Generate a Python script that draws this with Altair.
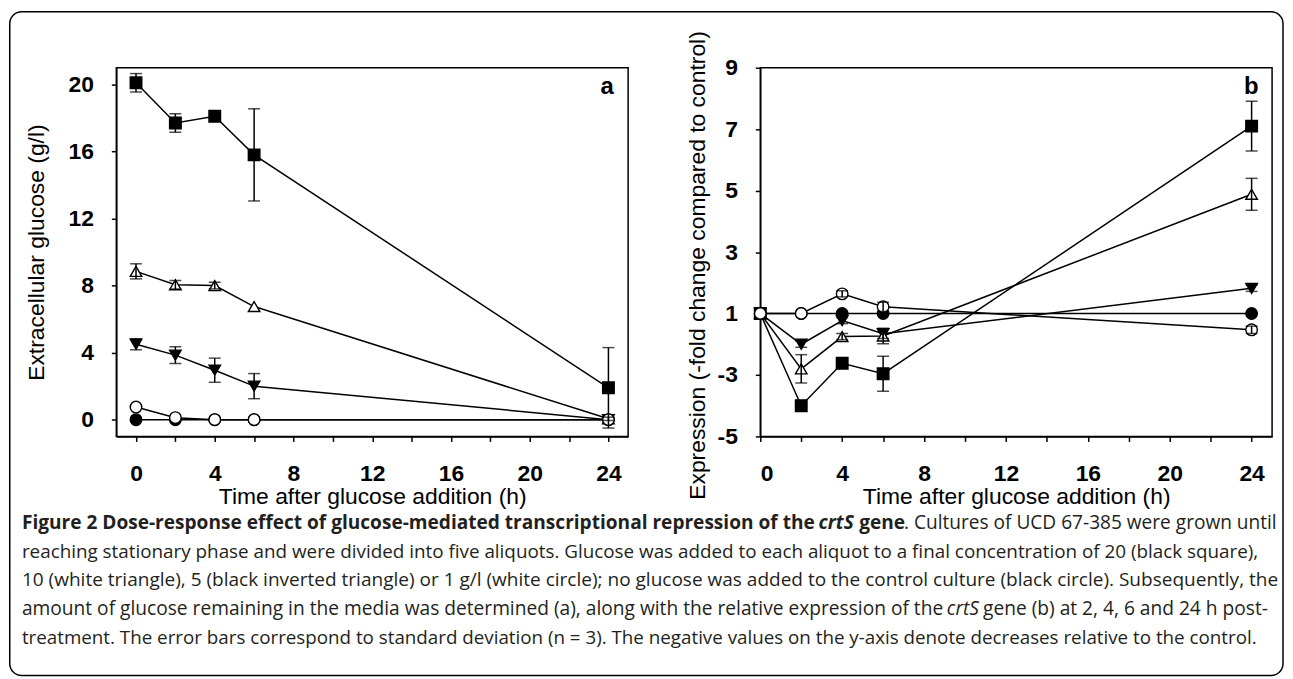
import altair as alt
import pandas as pd

# ---------------- data ----------------
times = [0, 2, 4, 6, 24]

# draw order (bottom -> top)
series_names = ["control", "20 g/l", "5 g/l", "10 g/l", "1 g/l"]
series_shapes = ["circle", "square", "triangle-down", "triangle-up", "circle"]
series_fills = ["black", "black", "black", "white", "white"]

# Panel a: extracellular glucose (g/l), mean and SD
glc_ctrl = [0.0, 0.0, 0.0, 0.0, 0.0]
glc_20 = [20.1, 17.7, 18.1, 15.8, 1.9]
glc_10 = [8.85, 8.05, 8.0, 6.75, 0.05]
glc_5 = [4.5, 3.85, 2.95, 2.0, 0.0]
glc_1 = [0.75, 0.12, 0.0, 0.0, 0.0]
glc_ctrl_sd = [0.0, 0.0, 0.0, 0.0, 0.0]
glc_20_sd = [0.55, 0.55, 0.12, 2.75, 2.4]
glc_10_sd = [0.45, 0.25, 0.2, 0.0, 0.1]
glc_5_sd = [0.33, 0.5, 0.72, 0.75, 0.0]
glc_1_sd = [0.0, 0.0, 0.0, 0.0, 0.0]

# Panel b: expression in axis units (labels below 1 read value-2: -1 -> "-3", -3 -> "-5")
expr_ctrl = [1.0, 1.0, 1.0, 1.0, 1.0]
expr_20 = [1.0, -2.0, -0.62, -0.96, 7.1]
expr_10 = [1.0, -0.8, 0.25, 0.27, 4.88]
expr_5 = [1.0, 0.0, 0.77, 0.34, 1.82]
expr_1 = [1.0, 1.0, 1.64, 1.22, 0.47]
expr_ctrl_sd = [0.0, 0.0, 0.0, 0.0, 0.0]
expr_20_sd = [0.0, 0.0, 0.1, 0.57, 0.81]
expr_10_sd = [0.0, 0.46, 0.1, 0.25, 0.52]
expr_5_sd = [0.0, 0.1, 0.1, 0.15, 0.1]
expr_1_sd = [0.0, 0.0, 0.1, 0.15, 0.12]

x_ticks = [0, 2, 4, 6, 8, 10, 12, 14, 16, 18, 20, 22, 24]
ya_ticks = [0, 2, 4, 6, 8, 10, 12, 14, 16, 18, 20]
yb_ticks = [-3, -2, -1, 0, 1, 2, 3, 4, 5, 6, 7, 8, 9]

x_title = "Time after glucose addition (h)"
ya_title = "Extracellular glucose (g/l)"
yb_title = "Expression (-fold change compared to control)"

caption_lines = [
    [("Figure 2 Dose-response effect of glucose-mediated transcriptional repression of the", "bold", "normal"),
     ("crtS", "bold", "italic"),
     ("gene", "bold", "normal"),
     (". Cultures of UCD 67-385 were grown until", "normal", "normal")],
    [("reaching stationary phase and were divided into five aliquots. Glucose was added to each aliquot to a final concentration of 20 (black square),", "normal", "normal")],
    [("10 (white triangle), 5 (black inverted triangle) or 1 g/l (white circle); no glucose was added to the control culture (black circle). Subsequently, the", "normal", "normal")],
    [("amount of glucose remaining in the media was determined (a), along with the relative expression of the", "normal", "normal"),
     ("crtS", "normal", "italic"),
     ("gene (b) at 2, 4, 6 and 24 h post-", "normal", "normal")],
    [("treatment. The error bars correspond to standard deviation (n = 3). The negative values on the y-axis denote decreases relative to the control.", "normal", "normal")],
]

# ---------------- layout (pixels, relative to panel a plot origin) ----------------
PW, PH = 515, 371
GAP = 133
CAP_FONT = "Open Sans"
cap_sizes = [19.2, 18.95, 19.15, 19.3, 18.9]
cap_base = [464, 493, 522, 551, 580]
# approximate segment widths at 17px, used to chain segments within a line
seg_w17 = [[702, 30, 40, 325], [1137], [1115], [814, 27, 246], [1110]]
seg_gap = [[0.46, 0.36, 0, 0], [0], [0], [0.34, 0.30, 0], [0]]
cap_x0 = 21 - 116


def seg_positions(li):
    s = cap_sizes[li] / 17.0
    xs, x = [], cap_x0
    for w, g in zip(seg_w17[li], seg_gap[li]):
        xs.append(x)
        x += w * s + g * cap_sizes[li]
    return xs


def long_df(means, sds):
    rows = []
    for name, m, s in zip(series_names, means, sds):
        for t, v, e in zip(times, m, s):
            rows.append({"series": name, "time": t, "value": v, "err": e})
    return pd.DataFrame(rows)


df_a = long_df([glc_ctrl, glc_20, glc_5, glc_10, glc_1],
               [glc_ctrl_sd, glc_20_sd, glc_5_sd, glc_10_sd, glc_1_sd])
df_b = long_df([expr_ctrl, expr_20, expr_5, expr_10, expr_1],
               [expr_ctrl_sd, expr_20_sd, expr_5_sd, expr_10_sd, expr_1_sd])

shape_scale = alt.Scale(domain=series_names, range=series_shapes)
fill_scale = alt.Scale(domain=series_names, range=series_fills)


def panel(df, xdom, ydom, yvals, ylabel_expr, ytitle, ytitle_pad, letter,
          ytitle_y=None, extra=()):
    yaxis_kw = dict(values=yvals, labelExpr=ylabel_expr, title=ytitle,
                    titlePadding=ytitle_pad, labelPadding=18)
    if ytitle_y is not None:
        yaxis_kw["titleY"] = ytitle_y
    x = alt.X("time:Q", scale=alt.Scale(domain=xdom, nice=False, zero=False),
              axis=alt.Axis(values=x_ticks,
                            labelExpr="datum.value % 4 == 0 ? datum.label : ''",
                            title=x_title, labelPadding=21, titlePadding=1))
    y = alt.Y("value:Q", scale=alt.Scale(domain=ydom, nice=False, zero=False),
              axis=alt.Axis(**yaxis_kw))
    base = alt.Chart(df)
    lines = base.mark_line(color="black", strokeWidth=1.5).encode(
        x=x, y=y, detail="series:N", order="time:Q")
    pts = base.mark_point(filled=True, size=135, stroke="black", strokeWidth=1.4, opacity=1).encode(
        x="time:Q", y="value:Q",
        shape=alt.Shape("series:N", scale=shape_scale, legend=None),
        fill=alt.Fill("series:N", scale=fill_scale, legend=None))
    eb = base.transform_filter("datum.err > 0").transform_calculate(
        lo="datum.value - datum.err", hi="datum.value + datum.err")
    rule = eb.mark_rule(color="black", strokeWidth=1.5).encode(
        x="time:Q", y="lo:Q", y2="hi:Q")
    cap_lo = eb.mark_tick(color="black", thickness=1.5, size=12, orient="horizontal").encode(
        x="time:Q", y="lo:Q")
    cap_hi = eb.mark_tick(color="black", thickness=1.5, size=12, orient="horizontal").encode(
        x="time:Q", y="hi:Q")
    lab = alt.Chart(pd.DataFrame({"t": [letter]})).mark_text(
        font="Liberation Sans", fontWeight="bold", fontSize=24, align="center",
        baseline="alphabetic", color="black").encode(
        x=alt.value(PW - 21), y=alt.value(26), text="t:N")
    return alt.layer(*extra, lines, pts, rule, cap_lo, cap_hi, lab).properties(
        width=PW, height=PH,
        view=alt.ViewBackground(stroke="black", strokeWidth=1.5))


# caption + outer rounded frame (drawn in panel a's coordinates)
cap_layers = [
    alt.Chart(pd.DataFrame({"k": [0]})).mark_rect(
        fill="transparent", stroke="black", strokeWidth=1.5, cornerRadius=12).encode(
        x=alt.value(-107.25), x2=alt.value(1174), y=alt.value(-56.25), y2=alt.value(611.5))
]
for li, segs in enumerate(caption_lines):
    for (txt, weight, style), xx in zip(segs, seg_positions(li)):
        cap_layers.append(
            alt.Chart(pd.DataFrame({"t": [txt]})).mark_text(
                font=CAP_FONT, fontSize=cap_sizes[li], fontWeight=weight, fontStyle=style,
                align="left", baseline="alphabetic", color="#231f20").encode(
                x=alt.value(xx), y=alt.value(cap_base[li]), text="t:N"))

panel_a = panel(df_a, [-1, 25], [-1, 21], ya_ticks,
                "datum.value % 4 == 0 ? datum.label : ''", ya_title, 20, "a",
                extra=cap_layers)
panel_b = panel(df_b, [0, 25], [-3, 9], yb_ticks,
                "datum.value % 2 == 0 ? '' : '' + (datum.value >= 1 ? datum.value : datum.value - 2)",
                yb_title, 8, "b", ytitle_y=PH / 2 + 13)

chart = alt.hconcat(panel_a, panel_b, spacing=GAP, bounds="flush").properties(
    padding=0, background="white"
).configure_view(stroke="transparent").configure_axis(
    grid=False, domainColor="black", domainWidth=1.5, tickColor="black", tickWidth=1.5,
    tickSize=5, labelFont="Liberation Sans", labelFontWeight="bold", labelFontSize=23,
    labelColor="black", titleFont="Liberation Sans", titleFontWeight="normal",
    titleFontSize=23, titleColor="black"
)

chart.save("out.html", embed_options={"renderer": "svg", "actions": False})
